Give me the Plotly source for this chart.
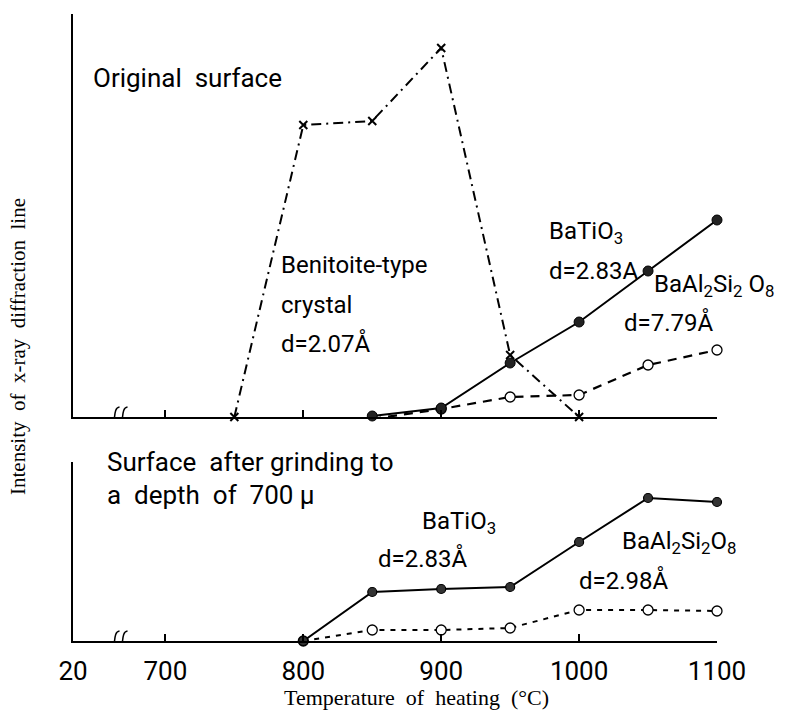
import plotly.graph_objects as go

# ---------------- data ----------------
# Original surface (top panel)
top_benitoite_T = [750, 800, 850, 900, 950, 1000]
top_benitoite = [0, 292, 296, 369, 62, 0]

top_batio3_T = [850, 900, 950, 1000, 1050, 1100]
top_batio3 = [1, 9, 54, 95, 146, 197]

top_baal_T = [850, 900, 950, 1000, 1050, 1100]
top_baal = [-2, 8, 20, 22, 52, 67]

# Surface after grinding (bottom panel)
bot_T = [800, 850, 900, 950, 1000, 1050, 1100]
bot_batio3 = [0, 49, 52, 54, 99, 143, 139]
bot_baal = [0, 11, 11, 13, 31, 31, 30]

tick_vals = [633, 700, 800, 900, 1000, 1100]
tick_text = ["20", "700", "800", "900", "1000", "1100"]
break_at = 666

W, H = 796, 710
L, R, T, B = 73, 717, 14, 641
def px(x):
    return (x - L) / (R - L)
def py(y):
    return (B - y) / (B - T)

SANS = "Roboto, Liberation Sans, sans-serif"
SERIF = "Liberation Serif, Times New Roman, serif"

fig = go.Figure()

# top panel
fig.add_trace(go.Scatter(x=top_benitoite_T, y=top_benitoite, mode="lines+markers",
                         line=dict(color="black", width=2, dash="10px,5px,2px,5px"),
                         marker=dict(symbol="x-thin", size=8, line=dict(color="black", width=2)),
                         xaxis="x", yaxis="y", cliponaxis=False, showlegend=False))
fig.add_trace(go.Scatter(x=top_baal_T, y=top_baal, mode="lines+markers",
                         line=dict(color="black", width=2.2, dash="9px,7px"),
                         marker=dict(symbol="circle", size=10, color="white", line=dict(color="black", width=1.3)),
                         xaxis="x", yaxis="y", cliponaxis=False, showlegend=False))
fig.add_trace(go.Scatter(x=top_batio3_T, y=top_batio3, mode="lines+markers",
                         line=dict(color="black", width=2),
                         marker=dict(symbol="circle", size=10, color="#222", line=dict(color="black", width=1)),
                         xaxis="x", yaxis="y", cliponaxis=False, showlegend=False))

# bottom panel
fig.add_trace(go.Scatter(x=bot_T, y=bot_baal, mode="lines+markers",
                         line=dict(color="black", width=2, dash="5px,6px"),
                         marker=dict(symbol="circle", size=10, color="white", line=dict(color="black", width=1.3)),
                         xaxis="x2", yaxis="y2", cliponaxis=False, showlegend=False))
fig.add_trace(go.Scatter(x=bot_T, y=bot_batio3, mode="lines+markers",
                         line=dict(color="black", width=2),
                         marker=dict(symbol="circle", size=9, color="#333", line=dict(color="black", width=1.2)),
                         xaxis="x2", yaxis="y2", cliponaxis=False, showlegend=False))

top_dom = [py(417), 1.0]
bot_dom = [0.0, py(462)]

axis_common = dict(range=[633, 1100], showgrid=False, zeroline=False, showline=True,
                   linecolor="black", linewidth=2, ticks="inside", ticklen=7, tickwidth=1.5,
                   tickcolor="black", fixedrange=True)

fig.update_layout(
    width=W, height=H,
    margin=dict(l=L, r=W - R, t=T, b=H - B),
    paper_bgcolor="white", plot_bgcolor="white",
    xaxis=dict(**axis_common, anchor="y", tickvals=tick_vals[1:], showticklabels=False),
    yaxis=dict(domain=top_dom, range=[0, 403], showgrid=False, zeroline=False, showline=True,
               linecolor="black", linewidth=2, showticklabels=False, ticks="", fixedrange=True),
    xaxis2=dict(**axis_common, anchor="y2",
                tickvals=tick_vals, ticktext=tick_text, ticklabelstandoff=6,
                tickfont=dict(family=SANS, size=26, color="black")),
    yaxis2=dict(domain=bot_dom, range=[0, 179], showgrid=False, zeroline=False, showline=True,
                linecolor="black", linewidth=2, showticklabels=False, ticks="", fixedrange=True),
)

# axis break marks
for xr, yr in (("x", "y"), ("x2", "y2")):
    fig.add_shape(type="rect", xref=xr, yref=yr, xsizemode="pixel", ysizemode="pixel",
                  xanchor=break_at, yanchor=0, x0=-2, x1=2, y0=-3, y1=3,
                  fillcolor="white", line=dict(width=0))
    for off in (-4, 4):
        fig.add_shape(type="path", xref=xr, yref=yr, xsizemode="pixel", ysizemode="pixel",
                      xanchor=break_at, yanchor=0,
                      path=f"M{off-5},-10 C{off+3},-9 {off-3},9 {off+5},10",
                      line=dict(color="black", width=1.5))

def label(x, y, text, size=24, anchor="left", family=SANS):
    fig.add_annotation(x=px(x), y=py(y), xref="paper", yref="paper", text=text,
                       showarrow=False, xanchor=anchor, yanchor="middle",
                       font=dict(family=family, size=size, color="black"))

label(91, 78, "Original  surface", size=26)
label(279, 265, "Benitoite-type", size=24)
label(279, 305, "crystal", size=24)
label(279, 343, "d=2.07Å", size=24)
label(547, 232, "BaTiO<sub>3</sub>", size=24)
label(547, 271, "d=2.83A", size=24)
label(652, 285, "BaAl<sub>2</sub>Si<sub>2</sub> O<sub>8</sub>", size=24)
label(622, 322, "d=7.79Å", size=24)

label(105, 462, "Surface  after grinding to", size=26)
label(105, 495, "a  depth  of  700 μ", size=26)
label(420, 522, "BaTiO<sub>3</sub>", size=24)
label(376, 558, "d=2.83Å", size=24)
label(620, 542, "BaAl<sub>2</sub>Si<sub>2</sub>O<sub>8</sub>", size=24)
label(577, 580, "d=2.98Å", size=24)

# axis titles
fig.add_annotation(x=px(416), y=py(697), xref="paper", yref="paper",
                   text="Temperature  of  heating  (°C)", showarrow=False,
                   xanchor="center", yanchor="middle",
                   font=dict(family=SERIF, size=22, color="black"))
fig.add_annotation(x=px(18), y=py(347), xref="paper", yref="paper",
                   text="Intensity  of  x-ray  diffraction  line", showarrow=False,
                   textangle=-90, xanchor="center", yanchor="middle",
                   font=dict(family=SERIF, size=21, color="black"))

fig.write_html("out.html")
